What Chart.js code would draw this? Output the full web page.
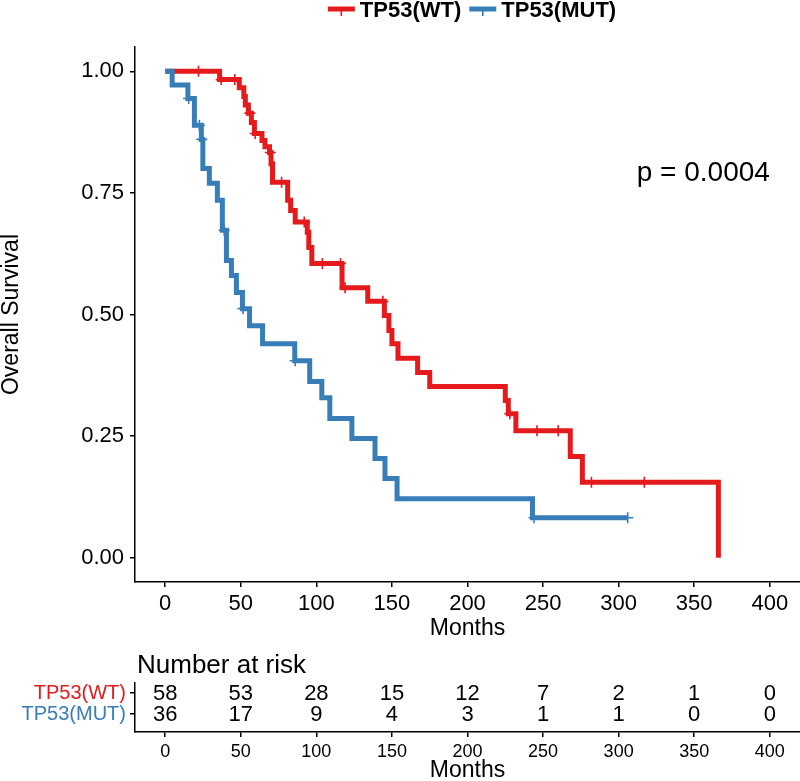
<!DOCTYPE html>
<html>
<head>
<meta charset="utf-8">
<script src="https://cdn.jsdelivr.net/npm/chart.js@4.4.1/dist/chart.umd.min.js"></script>
<style>
  html, body { margin: 0; padding: 0; background: #fff; }
  #wrap { position: relative; width: 800px; height: 781px; }
  #kmChart { position: absolute; left: 0; top: 0; }
  #riskChart { position: absolute; left: 0; top: 640px; }
</style>
</head>
<body>
<div id="wrap">
  <canvas id="kmChart" width="800" height="640"></canvas>
  <canvas id="riskChart" width="800" height="141"></canvas>
</div>
<script>
// groepen en kleuren
const groups = ['TP53(WT)', 'TP53(MUT)'];
const groupColors = ['#E41A1C', '#377EB8'];

// Kaplan-Meier stappen (maanden, overleving)
const wtTimes = [0, 36, 49, 52, 53, 55, 57, 59, 64, 66, 69, 70, 71, 81, 83, 86, 94, 95, 97, 117, 134, 145, 148, 150, 154, 167, 175, 225, 227, 232, 268, 276, 366];
const wtSurv  = [1.0, 0.983, 0.966, 0.948, 0.931, 0.914, 0.895, 0.872, 0.858, 0.845, 0.833, 0.81, 0.772, 0.735, 0.714, 0.69, 0.669, 0.638, 0.605, 0.555, 0.527, 0.498, 0.467, 0.44, 0.41, 0.381, 0.352, 0.323, 0.296, 0.261, 0.208, 0.155, 0.0];
const wtCensor = [22, 37, 46, 56, 59.5, 69.5, 77, 92, 104, 116, 119, 144, 228, 246, 260, 282, 317];

const mutTimes = [0, 4.6, 15, 19.3, 23.9, 24.9, 29.2, 34.5, 37.8, 40.5, 43.8, 47.1, 51.1, 55.8, 64.4, 85.7, 95.6, 103.6, 108.9, 123.5, 138.8, 145.4, 153.4, 243, 306];
const mutSurv  = [1.0, 0.972, 0.944, 0.889, 0.86, 0.80, 0.77, 0.735, 0.673, 0.611, 0.58, 0.545, 0.512, 0.477, 0.44, 0.405, 0.362, 0.329, 0.286, 0.245, 0.204, 0.163, 0.121, 0.082, 0.082];
const mutCensor = [15.5, 22.6, 24.2, 39, 51.5, 86, 244, 306];

// assen
const xTicks = [0, 50, 100, 150, 200, 250, 300, 350, 400];
const yTicks = [0, 0.25, 0.5, 0.75, 1.0];
const pValueText = 'p = 0.0004';

// number at risk
const riskTimes = [0, 50, 100, 150, 200, 250, 300, 350, 400];
const wtRisk  = [58, 53, 28, 15, 12, 7, 2, 1, 0];
const mutRisk = [36, 17, 9, 4, 3, 1, 1, 0, 0];

const FONT = '"Liberation Sans", Arial, sans-serif';
Chart.defaults.font.family = FONT;
Chart.defaults.color = '#000';

function survAt(times, surv, t) {
    let s = surv[0];
    for (let i = 0; i < times.length; i++) {
        if (times[i] <= t) s = surv[i];
    }
    return s;
}

function curve(times, surv) {
    return times.map((t, i) => ({ x: t, y: surv[i] }));
}

function censorPoints(times, surv, cens) {
    return cens.map(t => ({ x: t, y: survAt(times, surv, t) }));
}

function lineSet(data, color) {
    return {
        data: data,
        borderColor: color,
        borderWidth: 5,
        stepped: 'before',
        pointRadius: 0,
        fill: false,
        borderCapStyle: 'butt'
    };
}

function censorSet(data, color) {
    return {
        data: data,
        showLine: false,
        pointStyle: 'cross',
        pointRadius: 5.5,
        pointBorderWidth: 1.6,
        pointBorderColor: color,
        pointBackgroundColor: color
    };
}

function axisX(titleSize, tickSize, fitHeight, pad, titleLH) {
    return {
        type: 'linear',
        min: -20,
        max: 420,
        afterBuildTicks: s => { s.ticks = xTicks.map(v => ({ value: v })); },
        afterFit: s => { s.height = fitHeight; s.paddingLeft = 0; s.paddingRight = 0; },
        ticks: { font: { size: tickSize }, color: '#000', padding: pad, maxRotation: 0, autoSkip: false },
        grid: { display: true, drawOnChartArea: false, drawTicks: true, tickLength: 5, color: '#000', lineWidth: 1.5 },
        border: { display: true, color: '#000', width: 1.5 },
        title: { display: true, text: 'Months', font: { size: titleSize, lineHeight: titleLH }, color: '#000', padding: 0 }
    };
}

// legenda bovenaan
const legendPlugin = {
    id: 'kmLegend',
    afterDraw(chart) {
        const ctx = chart.ctx;
        ctx.save();
        ctx.font = 'bold 22px ' + FONT;
        const keyW = 27, gap = 5, itemGap = 8;
        const widths = groups.map(g => ctx.measureText(g).width);
        const total = widths.reduce((a, w) => a + keyW + gap + w, 0) + itemGap;
        let x = 472 - total / 2;
        const y = 9;
        groups.forEach((g, i) => {
            ctx.strokeStyle = groupColors[i];
            ctx.lineWidth = 5;
            ctx.beginPath();
            ctx.moveTo(x, y);
            ctx.lineTo(x + keyW, y);
            ctx.stroke();
            ctx.lineWidth = 1.6;
            ctx.beginPath();
            ctx.moveTo(x + keyW / 2, y);
            ctx.lineTo(x + keyW / 2, y + 7);
            ctx.stroke();
            ctx.fillStyle = '#000';
            ctx.textAlign = 'left';
            ctx.textBaseline = 'middle';
            ctx.fillText(g, x + keyW + gap, y + 2);
            x += keyW + gap + widths[i] + itemGap;
        });
        ctx.restore();
    }
};

const pvalPlugin = {
    id: 'pval',
    afterDraw(chart) {
        const ctx = chart.ctx;
        const xs = chart.scales.x, ys = chart.scales.y;
        ctx.save();
        ctx.font = '28px ' + FONT;
        ctx.fillStyle = '#000';
        ctx.textAlign = 'left';
        ctx.textBaseline = 'middle';
        ctx.fillText(pValueText, xs.getPixelForValue(312), ys.getPixelForValue(0.79));
        ctx.restore();
    }
};

new Chart(document.getElementById('kmChart'), {
    type: 'line',
    data: {
        datasets: [
            censorSet(censorPoints(mutTimes, mutSurv, mutCensor), groupColors[1]),
            lineSet(curve(mutTimes, mutSurv), groupColors[1]),
            censorSet(censorPoints(wtTimes, wtSurv, wtCensor), groupColors[0]),
            lineSet(curve(wtTimes, wtSurv), groupColors[0])
        ]
    },
    options: {
        responsive: false,
        animation: false,
        layout: { autoPadding: false, padding: { top: 47, left: 0, right: 0, bottom: 0 } },
        plugins: { legend: { display: false }, tooltip: { enabled: false } },
        scales: {
            x: axisX(23, 22, 58, 4, 1.0),
            y: {
                type: 'linear',
                min: -0.05,
                max: 1.05,
                afterBuildTicks: s => { s.ticks = yTicks.map(v => ({ value: v })); },
                afterFit: s => { s.width = 135; s.paddingTop = 0; s.paddingBottom = 0; },
                ticks: { font: { size: 22 }, color: '#000', padding: 6, callback: v => v.toFixed(2) },
                grid: { display: true, drawOnChartArea: false, drawTicks: true, tickLength: 5, color: '#000', lineWidth: 1.5 },
                border: { display: true, color: '#000', width: 1.5 },
                title: { display: true, text: 'Overall Survival', font: { size: 23, lineHeight: 1.0 }, color: '#000', padding: 0 }
            }
        }
    },
    plugins: [legendPlugin, pvalPlugin]
});

// tabel met aantallen
const riskPlugin = {
    id: 'riskNumbers',
    afterDraw(chart) {
        const ctx = chart.ctx;
        const xs = chart.scales.x, ys = chart.scales.y;
        ctx.save();
        ctx.fillStyle = '#000';
        ctx.font = '22px ' + FONT;
        ctx.textAlign = 'center';
        ctx.textBaseline = 'middle';
        [wtRisk, mutRisk].forEach((row, i) => {
            row.forEach((n, j) => {
                ctx.fillText(String(n), xs.getPixelForValue(riskTimes[j]), ys.getPixelForValue(i) + 1);
            });
        });
        ctx.font = '26px ' + FONT;
        ctx.textAlign = 'left';
        ctx.fillText('Number at risk', chart.chartArea.left + 2, 26);
        ctx.restore();
    }
};

new Chart(document.getElementById('riskChart'), {
    type: 'scatter',
    data: { datasets: [] },
    options: {
        responsive: false,
        animation: false,
        layout: { autoPadding: false, padding: { top: 43, left: 0, right: 0, bottom: 0 } },
        plugins: { legend: { display: false }, tooltip: { enabled: false } },
        scales: {
            x: axisX(23, 18, 49, 4, 0.9),
            y: {
                type: 'linear',
                reverse: true,
                min: -0.48,
                max: 1.86,
                afterBuildTicks: s => { s.ticks = [0, 1].map(v => ({ value: v })); },
                afterFit: s => { s.width = 135; s.paddingTop = 0; s.paddingBottom = 0; },
                ticks: {
                    font: { size: 20 },
                    padding: 4,
                    color: c => groupColors[c.index],
                    callback: v => groups[v]
                },
                grid: { display: true, drawOnChartArea: false, drawTicks: true, tickLength: 5, color: '#000', lineWidth: 1.5 },
                border: { display: true, color: '#000', width: 1.5 }
            }
        }
    },
    plugins: [riskPlugin]
});
</script>
</body>
</html>
